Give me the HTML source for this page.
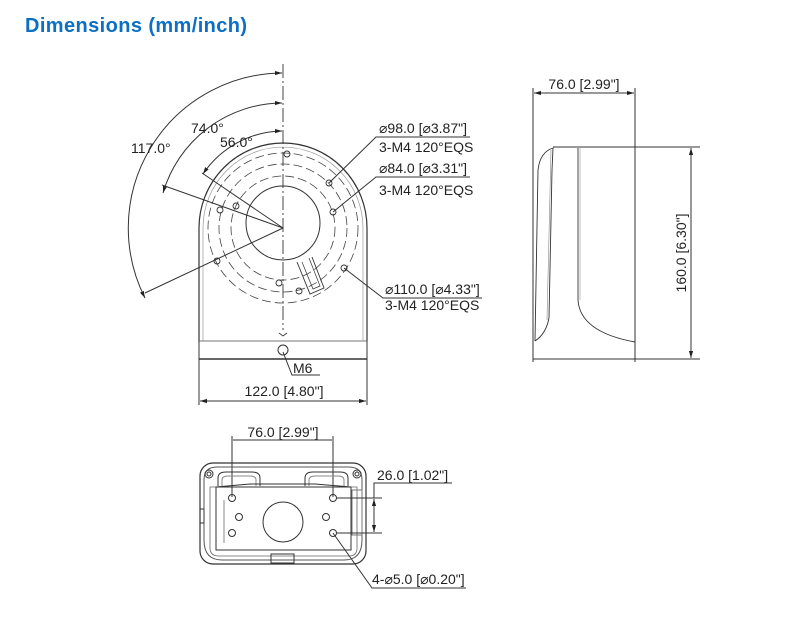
<!DOCTYPE html>
<html><head><meta charset="utf-8"><style>
html,body{margin:0;padding:0;background:#fff;}
svg{display:block;}
text{font-family:"Liberation Sans","DejaVu Sans",sans-serif;fill:#222;}
</style></head><body>
<svg width="793" height="618" viewBox="0 0 793 618" xmlns="http://www.w3.org/2000/svg">
<defs>
<marker id="a" viewBox="0 0 10 10" refX="10" refY="5" markerWidth="7" markerHeight="7" orient="auto-start-reverse" markerUnits="userSpaceOnUse"><path d="M0,2 L10,5 L0,8 z" fill="#222"/></marker>
</defs>
<text x="25" y="32" style="font-size:20px;font-weight:bold;fill:#0b6fc4;letter-spacing:0.4px">Dimensions (mm/inch)</text>

<g stroke="#333" fill="none" stroke-width="1">
<path d="M199,341 L199,228 A84,85 0 0 1 367,228 L367,341" stroke-width="1.2"/>
<path d="M203,341 L203,228 A80,81 0 0 1 363,228 L363,341" stroke="#999" stroke-width="0.7"/>
<line x1="199" y1="341" x2="367" y2="341" stroke="#777"/>
<line x1="199" y1="359" x2="367" y2="359" stroke-width="1.5"/>
<line x1="199" y1="341" x2="199" y2="359"/>
<line x1="367" y1="341" x2="367" y2="359"/>
<circle cx="283" cy="350" r="5"/>
<circle cx="283" cy="223" r="37"/>
<g stroke-dasharray="9,4" stroke="#444" stroke-width="0.8">
<circle cx="283" cy="228" r="52"/>
<circle cx="283" cy="228" r="64"/>
<circle cx="283" cy="228" r="75"/>
</g>
<path d="M279,333 L283,336 L287,333" stroke-width="0.8"/>
<g stroke-width="0.9">
<circle cx="287" cy="154" r="3"/><circle cx="329" cy="183" r="3"/><circle cx="333" cy="212" r="3"/>
<circle cx="236" cy="206" r="3"/><circle cx="220" cy="210" r="3"/><circle cx="217" cy="261" r="3"/>
<circle cx="279" cy="283" r="3"/><circle cx="299" cy="291" r="3"/><circle cx="344" cy="268" r="3"/>
</g>
<path d="M297,262 L310,294 L324,288 L312,257" stroke-width="0.9"/>
<path d="M302,262 L313,289 L320,286 L309,258" stroke-width="0.7"/>
<line x1="283" y1="64" x2="283" y2="330" stroke-dasharray="14,3,2,3" stroke-width="0.9"/>
<line x1="283" y1="228" x2="202" y2="173"/>
<line x1="283" y1="228" x2="162" y2="185"/>
<line x1="283" y1="228" x2="145" y2="293"/>
<path d="M282,131 A97,97 0 0 0 203,174" marker-start="url(#a)" marker-end="url(#a)"/>
<path d="M282,103 A125,125 0 0 0 163,193" marker-start="url(#a)" marker-end="url(#a)"/>
<path d="M282,73 A155,155 0 0 0 145,298" marker-start="url(#a)" marker-end="url(#a)"/>
<polyline points="329,183 376,137 470,137"/>
<polyline points="333,212 376,177 470,177"/>
<polyline points="344,268 383,298 482,298"/>
<polyline points="283,352 292,375 320,375"/>
<line x1="199" y1="359" x2="199" y2="405"/>
<line x1="367" y1="359" x2="367" y2="405"/>
<line x1="200" y1="401" x2="366" y2="401" marker-start="url(#a)" marker-end="url(#a)"/>

<line x1="533" y1="88" x2="533" y2="362"/>
<line x1="635" y1="88" x2="635" y2="362"/>
<line x1="534" y1="93" x2="634" y2="93" marker-start="url(#a)" marker-end="url(#a)"/>
<line x1="553" y1="147" x2="700" y2="147"/>
<line x1="533" y1="359" x2="700" y2="359"/>
<line x1="691" y1="148" x2="691" y2="358" marker-start="url(#a)" marker-end="url(#a)"/>
<path d="M535,341 L538,170 Q540,152 553,148 L552,170 L549,318 Q546,334 535,341" stroke-width="0.9"/>
<path d="M551,150 L547,320" stroke="#888" stroke-width="0.6"/>
<path d="M578,148 L578,300 Q580,332 635,342" stroke-width="0.9"/>
<path d="M580,148 L580,300" stroke="#999" stroke-width="0.6"/>

<line x1="232" y1="436" x2="232" y2="497"/>
<line x1="333" y1="436" x2="333" y2="497"/>
<line x1="233" y1="440" x2="332" y2="440" stroke-width="0.9"/>
<rect x="200" y="463" width="166" height="101" rx="13" stroke-width="1.2"/>
<path d="M204,480 L204,540 Q204,560 222,560 L344,560 Q362,560 362,540 L362,480" stroke="#555"/>
<path d="M204,480 Q204,467 217,467 L349,467 Q362,467 362,480" stroke="#555"/>
<circle cx="209" cy="474" r="4"/><circle cx="209" cy="474" r="2"/>
<circle cx="357" cy="474" r="4"/><circle cx="357" cy="474" r="2"/>
<path d="M218,486 L218,478 Q218,472 226,472 L252,472 Q260,472 260,478 L260,486"/>
<path d="M222,486 L222,480 Q222,476 228,476 L250,476 Q256,476 256,480 L256,486" stroke="#888"/>
<path d="M305,486 L305,478 Q305,472 313,472 L340,472 Q348,472 348,478 L348,486"/>
<path d="M309,486 L309,480 Q309,476 315,476 L338,476 Q344,476 344,480 L344,486" stroke="#888"/>
<path d="M210,487 L216,487 L216,550 L351,550 L351,487 L357,487 L357,548 Q357,556 349,556 L219,556 Q210,556 210,548 Z" stroke="#666" stroke-width="0.8"/>
<path d="M216,487 L250,484 L315,484 L351,487"/>
<rect x="216" y="487" width="135" height="63"/>
<line x1="224" y1="500" x2="224" y2="543" stroke="#888"/>
<circle cx="283" cy="522" r="20"/>
<circle cx="232" cy="498" r="3.5"/><circle cx="333" cy="498" r="3.5"/>
<circle cx="232" cy="533" r="3.5"/><circle cx="333" cy="533" r="3.5"/>
<circle cx="239" cy="517" r="3.5"/><circle cx="326" cy="517" r="3.5"/>
<rect x="271" y="554" width="23" height="9"/>
<rect x="200" y="509" width="4" height="14"/>
<rect x="352" y="490" width="10" height="45" stroke="#777"/>
<line x1="336" y1="498" x2="382" y2="498"/>
<line x1="336" y1="533" x2="382" y2="533"/>
<line x1="374" y1="499" x2="374" y2="532" marker-start="url(#a)" marker-end="url(#a)"/>
<polyline points="374,498 374,483 452,483"/>
<polyline points="333,533 372,588 466,588"/>
</g>

<g style="font-size:14px">
<text x="131" y="153">117.0°</text>
<text x="191" y="133">74.0°</text>
<text x="220" y="147">56.0°</text>
<text x="379" y="133">⌀98.0 [⌀3.87"]</text>
<text x="379" y="152">3-M4 120°EQS</text>
<text x="379" y="173">⌀84.0 [⌀3.31"]</text>
<text x="379" y="195">3-M4 120°EQS</text>
<text x="385" y="294">⌀110.0 [⌀4.33"]</text>
<text x="385" y="310">3-M4 120°EQS</text>
<text x="293" y="373">M6</text>
<text x="284" y="396" text-anchor="middle">122.0 [4.80"]</text>
<text x="584" y="89" text-anchor="middle">76.0 [2.99"]</text>
<text transform="translate(686,253) rotate(-90)" text-anchor="middle">160.0 [6.30"]</text>
<text x="283" y="437" text-anchor="middle">76.0 [2.99"]</text>
<text x="377" y="480">26.0 [1.02"]</text>
<text x="372" y="584">4-⌀5.0 [⌀0.20"]</text>
</g>
</svg>
</body></html>
